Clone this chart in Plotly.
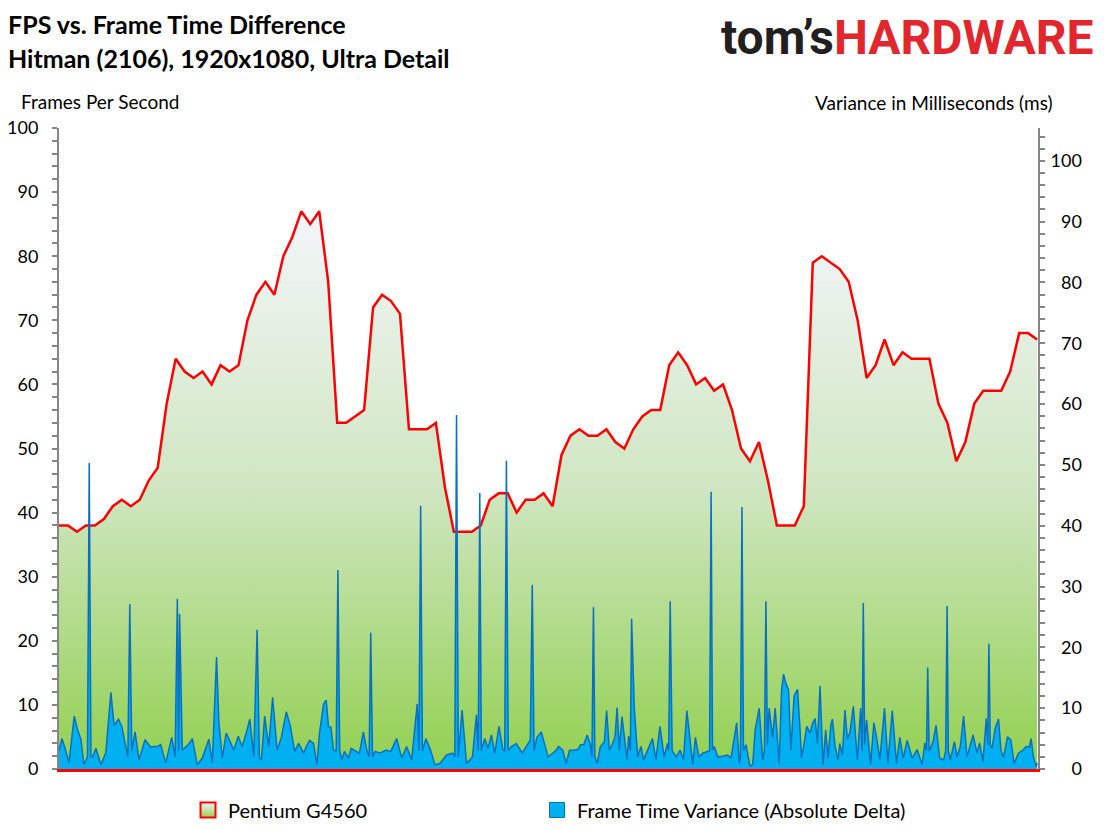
import plotly.graph_objects as go

# FPS samples, one per second
fps_time = list(range(110))
fps_values = [38, 38, 37, 38, 38, 39, 41, 42, 41, 42,
              45, 47, 57, 64, 62, 61, 62, 60, 63, 62,
              63, 70, 74, 76, 74, 80, 83, 87, 85, 87,
              76, 54, 54, 55, 56, 72, 74, 73, 71, 53,
              53, 53, 54, 44, 37, 37, 37, 38, 42, 43,
              43, 40, 42, 42, 43, 41, 49, 52, 53, 52,
              52, 53, 51, 50, 53, 55, 56, 56, 63, 65,
              63, 60, 61, 59, 60, 56, 50, 48, 51, 45,
              38, 38, 38, 41, 79, 80, 79, 78, 76, 70,
              61, 63, 67, 63, 65, 64, 64, 64, 57, 54,
              48, 51, 57, 59, 59, 59, 62, 68, 68, 67]

# frame time variance (absolute delta, ms)
var_time = [0, 0.33, 0.7, 1.11, 1.7, 2.08, 2.44, 2.78, 3.17, 3.37,
            3.56, 3.74, 4.11, 4.67, 5.22, 5.78, 6.14, 6.63, 7.0, 7.26,
            7.67, 7.89, 8.11, 8.48, 8.92, 9.59, 10.22, 10.59, 10.97, 11.33,
            11.89, 12.56, 12.94, 13.19, 13.33, 13.44, 13.74, 14.41, 14.86, 15.41,
            15.97, 16.7, 17.08, 17.56, 17.81, 18.19, 18.63, 18.92, 19.48, 19.97,
            20.41, 20.86, 21.26, 21.7, 22.08, 22.33, 22.56, 22.92, 23.37, 23.81,
            24.3, 24.78, 25.33, 25.78, 26.26, 26.7, 27.26, 27.56, 27.92, 28.37,
            28.74, 29.03, 29.48, 29.78, 30.03, 30.3, 30.59, 30.89, 31.08, 31.28,
            31.52, 31.81, 32.26, 32.56, 32.92, 33.48, 33.92, 34.3, 34.56, 34.74,
            34.94, 35.22, 35.78, 36.44, 36.97, 37.63, 38.19, 38.74, 39.3, 39.92,
            40.11, 40.3, 40.5, 40.89, 41.41, 41.89, 42.44, 43.19, 43.86, 44.11,
            44.3, 44.5, 44.92, 45.41, 46.08, 46.52, 46.72, 46.89, 47.06, 47.44,
            47.81, 48.19, 48.56, 49.03, 49.48, 49.67, 49.86, 50.06, 50.41, 50.97,
            51.63, 52.08, 52.52, 52.74, 52.94, 53.26, 53.74, 54.3, 54.48, 55.03,
            55.41, 55.67, 56.14, 56.52, 56.89, 57.37, 57.81, 58.11, 58.48, 58.86,
            59.22, 59.39, 59.56, 59.72, 59.97, 60.33, 60.78, 61.03, 61.33, 61.7,
            61.97, 62.19, 62.44, 62.74, 63.3, 63.48, 63.67, 63.81, 64.11, 64.48,
            64.86, 65.14, 65.59, 66.14, 66.52, 66.97, 67.44, 67.81, 67.94, 68.11,
            68.33, 68.78, 69.22, 69.59, 69.97, 70.33, 70.63, 70.92, 71.3, 71.74,
            72.22, 72.5, 72.67, 72.83, 73.03, 73.41, 73.97, 74.52, 74.89, 75.26,
            75.52, 75.81, 75.94, 76.11, 76.28, 76.56, 77.0, 77.3, 77.59, 78.03,
            78.41, 78.61, 78.78, 78.94, 79.14, 79.52, 79.81, 80.26, 80.52, 80.74,
            81.0, 81.3, 81.56, 81.92, 82.3, 82.59, 82.74, 83.03, 83.33, 83.7,
            83.97, 84.26, 84.52, 84.81, 85.14, 85.44, 85.7, 86.0, 86.19, 86.48,
            86.81, 87.0, 87.3, 87.59, 87.86, 88.14, 88.52, 88.97, 89.33, 89.5,
            89.63, 89.78, 90.0, 90.44, 90.81, 91.11, 91.48, 92.0, 92.37, 92.86,
            93.33, 93.7, 94.08, 94.52, 95.08, 95.63, 96.19, 96.48, 96.67, 96.81,
            96.97, 97.11, 97.41, 97.74, 98.14, 98.59, 98.81, 98.97, 99.11, 99.33,
            99.78, 100.08, 100.44, 100.81, 101.19, 101.86, 102.3, 102.59, 102.97, 103.33,
            103.5, 103.63, 103.78, 103.97, 104.33, 104.7, 104.97, 105.26, 105.7, 106.07,
            106.44, 106.92, 107.41, 107.78, 108.14, 108.33, 108.59, 108.89, 109.0]
var_values = [3, 5, 3.3, 1, 8.7, 6.4, 4.9, 0.7, 2, 50.3,
              2, 2, 3.4, 0.7, 2.7, 12.6, 7.2, 8.2, 7, 5,
              2, 27.1, 3, 6.1, 1.5, 4.8, 3.6, 3.7, 3.7, 4,
              1, 5.2, 2, 28, 3, 25.5, 3.1, 4, 5, 0.7,
              1.8, 4.9, 1, 18.4, 7.8, 1.8, 5.9, 5, 3.1, 5.4,
              3.7, 5.9, 8.2, 2, 22.9, 2, 1.5, 8.7, 3.7, 11.8,
              3.1, 5.2, 9.4, 7.1, 2.9, 4.2, 2.6, 3.7, 4.7, 4.2,
              0.7, 5.9, 10.7, 11.3, 7, 6.9, 3.1, 3, 32.7, 3,
              1.5, 2.9, 1.8, 3.4, 3.1, 2.6, 6.1, 3.1, 2, 22.4,
              2, 2.9, 2.6, 3.1, 2.9, 5, 1.8, 3.7, 1.5, 10.7,
              3, 43.3, 3, 5, 3.1, 0.7, 0.9, 2.3, 2.6, 2,
              58.2, 2, 9.7, 0.9, 2, 8.9, 3, 45.4, 3, 5,
              3.4, 5.6, 2.6, 7, 3.1, 3, 50.7, 3, 3.7, 4.2,
              2.6, 3.7, 4.8, 30.3, 3, 5.2, 6.1, 3.1, 2, 2.6,
              3.1, 3.7, 3.1, 0.9, 3.1, 3.1, 3.2, 4, 4, 5.6,
              4, 2, 26.6, 2, 0.9, 3.7, 4.5, 9.6, 3.1, 4.2,
              5.4, 10.1, 3.1, 8.6, 1.5, 5.4, 3, 24.7, 10, 2,
              3.7, 1.5, 3.1, 5, 1.5, 7, 2, 4.2, 3, 27.6,
              3, 2, 3.1, 1.5, 9.6, 4.2, 0.7, 5.2, 2, 2.6,
              2.9, 3, 45.6, 3, 3.7, 2, 2.1, 2.3, 1.8, 5,
              7.6, 0.9, 2, 43.1, 3, 4, 0.5, 0.7, 6.5, 10,
              1.5, 3, 27.6, 4, 10, 5.2, 10, 0.9, 12.9, 15.6,
              14.1, 13, 3.1, 12, 13.1, 6.4, 1.8, 4.2, 7, 5.9,
              7.5, 8.3, 4.2, 13.7, 0.7, 6.4, 1.8, 7.1, 8.2, 3.8,
              1.5, 4.2, 2.3, 9.7, 4.9, 6, 10.3, 1.5, 10, 3,
              27.3, 4, 8.1, 0.7, 7.6, 5.2, 1.6, 10, 0.9, 9.6,
              0.9, 5.2, 1.8, 4.7, 1.8, 3.2, 0.7, 4.3, 3, 16.7,
              3, 3.4, 4.5, 7.2, 1.8, 1.5, 3, 26.8, 3, 1.5,
              4.5, 2, 3.7, 8.7, 2, 5.6, 2.6, 4.3, 1.2, 8.3,
              4, 20.6, 4, 3.4, 6.7, 8.2, 3.1, 1.9, 5.3, 4.8,
              0.9, 2.6, 3.1, 3.7, 3.6, 5, 2, 0.4, 1]

fps_ticks = list(range(0, 101, 10))
var_ticks = list(range(0, 101, 10))
var_ticktext = [f"{v:>3}".replace(" ", "\u2007") for v in var_ticks]

series_names = ["Pentium G4560", "Frame Time Variance (Absolute Delta)"]

FONT = "Lato, 'Open Sans', sans-serif"
AXIS_GRAY = "#868686"

# the page body adds an 8px margin, so the figure is drawn 8px smaller
# and all layout pixels below are given in reference-image coordinates
OFF = 8
W, H = 1107 - OFF, 830 - OFF
L, R, T, B = 59, 1038, 128, 769
def px(x):
    return (x - L) / (R - L)
def py(y):
    return (B - y) / (B - T)

fig = go.Figure()

fig.add_trace(go.Scatter(
    x=fps_time, y=fps_values, mode="lines", name=series_names[0],
    line=dict(color="#FF0000", width=2.5),
    fill="tozeroy",
    fillgradient=dict(type="vertical", start=0, stop=max(fps_values),
                      colorscale=[[0, "#92D050"], [0.5, "#CFE6C1"], [1, "#F3F6FA"]]),
    showlegend=False, hoverinfo="skip",
))

fig.add_trace(go.Scatter(
    x=var_time, y=var_values, mode="lines", name=series_names[1], yaxis="y2",
    line=dict(color="#0870C0", width=1.5),
    fill="tozeroy", fillcolor="#00B0F0",
    showlegend=False, hoverinfo="skip",
))

# legend entries with square swatches like the original
fig.add_trace(go.Scatter(
    x=[None], y=[None], mode="markers", name=series_names[0], legend="legend",
    marker=dict(symbol="square", size=15, color="#F3F6FA",
                gradient=dict(type="vertical", color="#92D050"),
                line=dict(color="#FF0000", width=2)),
))
fig.add_trace(go.Scatter(
    x=[None], y=[None], mode="markers", name=series_names[1], legend="legend2",
    yaxis="y2",
    marker=dict(symbol="square", size=15, color="#00B0F0",
                line=dict(color="#0070C0", width=1)),
))

axis_common = dict(
    showgrid=False, zeroline=False, showline=True, linecolor=AXIS_GRAY, linewidth=2,
    ticks="outside", ticklen=5, tickwidth=1.5, tickcolor=AXIS_GRAY,
    tickfont=dict(family=FONT, size=18, color="#000000"),
    minor=dict(dtick=2, ticks="outside", ticklen=5, tickwidth=1.5, tickcolor=AXIS_GRAY),
)

legend_common = dict(orientation="h", xanchor="left", y=py(810), yanchor="middle",
                     font=dict(family=FONT, size=20), bgcolor="rgba(0,0,0,0)")

fig.update_layout(
    width=W, height=H,
    margin=dict(l=L - OFF, r=W - (R - OFF), t=T - OFF, b=H - (B - OFF), autoexpand=False),
    paper_bgcolor="white", plot_bgcolor="white",
    font=dict(family=FONT, color="#000000"),
    xaxis=dict(range=[0, 109.1], showgrid=False, zeroline=False, showticklabels=False,
               showline=True, linecolor="#FF0000", linewidth=2.5, ticks=""),
    yaxis=dict(range=[0, 100], tickvals=fps_ticks, ticklabelstandoff=10, **axis_common),
    yaxis2=dict(range=[0, 105.4], overlaying="y", side="right", tickvals=var_ticks,
                ticktext=var_ticktext, ticklabelstandoff=2, **axis_common),
    showlegend=True,
    legend=dict(x=px(188), **legend_common),
    legend2=dict(x=px(537), **legend_common),
)

annotations = [
    dict(text="<b>FPS vs. Frame Time Difference</b>", x=px(7), y=py(24),
         xanchor="left", yanchor="middle", font=dict(size=25)),
    dict(text="<b>Hitman (2106), 1920x1080, Ultra Detail</b>", x=px(7), y=py(58),
         xanchor="left", yanchor="middle", font=dict(size=25)),
    dict(text="Frames Per Second", x=px(20), y=py(101),
         xanchor="left", yanchor="middle", font=dict(size=19)),
    dict(text="Variance in Milliseconds (ms)", x=px(1054), y=py(103),
         xanchor="right", yanchor="middle", font=dict(size=19)),
    dict(text="<b><span style='color:#231F20'>tom’s</span>"
              "<span style='color:#E1262D'>HARDWARE</span></b>",
         x=px(1094), y=py(37), xanchor="right", yanchor="middle",
         font=dict(family="Roboto, sans-serif", size=48)),
]
for a in annotations:
    a.update(xref="paper", yref="paper", showarrow=False, borderpad=0)
    fig.add_annotation(**a)

fig.write_html("out.html")
